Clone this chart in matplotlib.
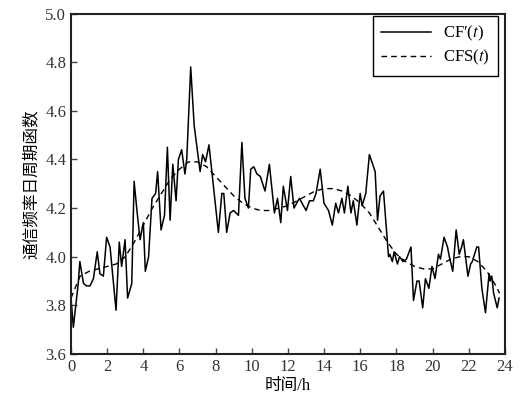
import matplotlib
matplotlib.use('Agg')
import matplotlib.pyplot as plt

t_cf = [0.00, 0.13, 0.40, 0.49, 0.69, 0.86, 1.05, 1.24, 1.45, 1.60, 1.79, 1.97,
        2.16, 2.49, 2.67, 2.80, 2.99, 3.13, 3.36, 3.49, 3.66, 3.82, 4.00, 4.11,
        4.29, 4.48, 4.68, 4.79, 4.98, 5.17, 5.33, 5.48, 5.63, 5.81, 5.94, 6.12,
        6.30, 6.40, 6.62, 6.81, 7.14, 7.28, 7.44, 7.63, 8.15, 8.34, 8.45, 8.61,
        8.80, 8.99, 9.26, 9.45, 9.62, 9.81, 9.94, 10.11, 10.28, 10.47, 10.73,
        10.97, 11.25, 11.42, 11.60, 11.74, 11.97, 12.15, 12.33, 12.63, 13.00,
        13.19, 13.40, 13.55, 13.78, 13.99, 14.24, 14.45, 14.64, 14.79, 14.98,
        15.12, 15.31, 15.48, 15.61, 15.81, 15.99, 16.10, 16.30, 16.50, 16.82,
        16.95, 17.09, 17.28, 17.56, 17.63, 17.77, 17.87, 18.05, 18.17, 18.36,
        18.55, 18.80, 18.94, 19.13, 19.25, 19.45, 19.60, 19.79, 19.96, 20.13,
        20.32, 20.43, 20.63, 20.82, 20.92, 21.11, 21.30, 21.47, 21.60, 21.70,
        21.95, 22.10, 22.19, 22.44, 22.54, 22.72, 22.92, 23.12, 23.18, 23.27,
        23.37, 23.57, 23.67]
cf = [3.83, 3.71, 3.89, 3.98, 3.89, 3.88, 3.88, 3.91, 4.02, 3.93, 3.92, 4.08,
      4.04, 3.78, 4.06, 3.96, 4.07, 3.83, 3.89, 4.31, 4.18, 4.07, 4.14, 3.94,
      4.00, 4.24, 4.26, 4.35, 4.11, 4.17, 4.45, 4.15, 4.38, 4.23, 4.40, 4.44,
      4.34, 4.40, 4.78, 4.54, 4.35, 4.42, 4.39, 4.46, 4.10, 4.26, 4.26, 4.10,
      4.18, 4.19, 4.17, 4.47, 4.24, 4.20, 4.36, 4.37, 4.34, 4.33, 4.27,
      4.38, 4.18, 4.24, 4.14, 4.29, 4.19, 4.33, 4.20, 4.24, 4.19,
      4.23, 4.23, 4.26, 4.36, 4.22, 4.19, 4.13, 4.22, 4.18, 4.24,
      4.18, 4.29, 4.18, 4.23, 4.13, 4.26, 4.21, 4.26, 4.42, 4.35,
      4.15, 4.25, 4.27, 4.00, 4.01, 3.98, 4.02, 3.97, 4.00, 3.98,
      3.99, 4.04, 3.82, 3.90, 3.90, 3.79, 3.91, 3.87, 3.96, 3.91,
      4.01, 3.99, 4.08, 4.04, 4.00, 3.94, 4.11, 4.01, 4.04, 4.07,
      3.92, 3.97, 3.98, 4.04, 4.04, 3.87, 3.77, 3.93, 3.90, 3.92,
      3.85, 3.79, 3.83]

# fitted daily periodic function CFS(t)
t_cfs = [0.0, 0.5, 1.0, 1.5, 2.0, 2.5, 3.0, 3.5, 4.0, 4.5, 5.0, 5.5, 6.0, 6.5,
         7.0, 7.5, 8.0, 8.5, 9.0, 9.5, 10.0, 10.5, 11.0, 11.5, 12.0, 12.5,
         13.0, 13.5, 14.0, 14.5, 15.0, 15.5, 16.0, 16.5, 17.0, 17.5, 18.0,
         18.5, 19.0, 19.5, 20.0, 20.5, 21.0, 21.5, 22.0, 22.5, 23.0, 23.5, 23.7]
cfs = [3.83, 3.92, 3.94, 3.95, 3.96, 3.97, 4.00, 4.06, 4.13, 4.20, 4.26, 4.32,
       4.36, 4.39, 4.39, 4.37, 4.33, 4.29, 4.25, 4.22, 4.20, 4.19, 4.19, 4.20,
       4.21, 4.23, 4.25, 4.27, 4.28, 4.28, 4.27, 4.25, 4.22, 4.18, 4.12, 4.06,
       4.01, 3.98, 3.96, 3.95, 3.95, 3.97, 3.99, 4.00, 4.00, 3.98, 3.94, 3.88,
       3.85]

x_ticks = list(range(0, 25, 2))
y_ticks = [3.6, 3.8, 4.0, 4.2, 4.4, 4.6, 4.8, 5.0]

plt.rcParams['font.family'] = ['Liberation Serif', 'Noto Sans CJK SC']
plt.rcParams['mathtext.fontset'] = 'stix'

fig = plt.figure(figsize=(5.31, 4.0), dpi=100)
ax = fig.add_axes([71 / 531, 1 - 354 / 400, 434 / 531, (354 - 13.5) / 400])

ax.plot(t_cf, cf, color='black', lw=1.1, label='CF\u2032($t$)')
ax.plot(t_cfs, cfs, color='black', lw=1.0, ls=(0, (4, 3)), label='CFS($t$)')

ax.set_xlim(0, 24)
ax.set_ylim(3.6, 5.0)
ax.set_xticks(x_ticks)
ax.set_yticks(y_ticks)
ax.set_yticklabels(['%.1f' % v for v in y_ticks])
ax.tick_params(direction='in', length=4, width=1, labelsize=12, colors='#444444',
               labelcolor='#333333')
for s in ax.spines.values():
    s.set_linewidth(1.5)
    s.set_color('#222222')

ax.set_xlabel('时间/h', fontsize=12, labelpad=2)
ax.set_ylabel('通信频率日周期函数', fontsize=12, labelpad=4)

leg = ax.legend(loc='upper right', bbox_to_anchor=(1 - 7 / 434, 1 - 2 / 340),
                fontsize=12, fancybox=False, framealpha=1, edgecolor='black',
                handlelength=3.0, handletextpad=0.7, borderaxespad=0,
                labelspacing=0.3, borderpad=0.5)
leg.get_frame().set_linewidth(1.0)

fig.savefig('out.png', dpi=100)
